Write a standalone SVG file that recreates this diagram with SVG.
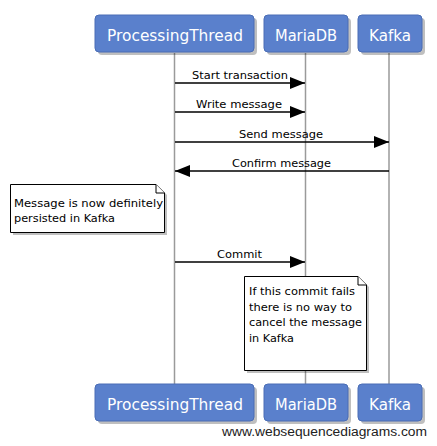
<svg xmlns="http://www.w3.org/2000/svg" width="437" height="446" viewBox="0 0 437 446">
<style>
.box{fill:#5a80cc;stroke:#4a6db5;stroke-width:1}
.shadow{fill:#000;opacity:0.25}
.bt{font-family:"DejaVu Sans",Verdana,sans-serif;font-size:15px;fill:#fff}
.life{stroke:#9a9a9a;stroke-width:1.5;fill:none}
.msg{stroke:#000;stroke-width:1.3;fill:none}
.ml{font-family:"DejaVu Sans",Verdana,sans-serif;font-size:10.5px;fill:#000}
.note{fill:#fff;stroke:#000;stroke-width:1}
.nt{font-family:"DejaVu Sans",Verdana,sans-serif;font-size:10.5px;fill:#000}
.foot{font-family:"Liberation Sans",Arial,sans-serif;font-size:12px;fill:#222}
</style>
<defs>
<marker id="ah" markerWidth="15" markerHeight="12" refX="15" refY="6" orient="auto" markerUnits="userSpaceOnUse">
<path d="M0,0 L15,6 L0,12 Z" fill="#000"/>
</marker>
</defs>
<rect width="437" height="446" fill="#fff"/>
<g id="connectors">
<line class="life" x1="174.5" y1="53" x2="174.5" y2="384"/>
<line class="life" x1="305.5" y1="53" x2="305.5" y2="384"/>
<line class="life" x1="389" y1="53" x2="389" y2="384"/>
<line class="msg" x1="175" y1="83" x2="305" y2="83" marker-end="url(#ah)"/>
<text class="ml" x="192" y="79" textLength="96" lengthAdjust="spacingAndGlyphs">Start transaction</text>
<line class="msg" x1="175" y1="112" x2="305" y2="112" marker-end="url(#ah)"/>
<text class="ml" x="196" y="108" textLength="86" lengthAdjust="spacingAndGlyphs">Write message</text>
<line class="msg" x1="175" y1="142" x2="389" y2="142" marker-end="url(#ah)"/>
<text class="ml" x="239" y="138" textLength="84" lengthAdjust="spacingAndGlyphs">Send message</text>
<line class="msg" x1="389" y1="171" x2="175" y2="171" marker-end="url(#ah)"/>
<text class="ml" x="232" y="167" textLength="99" lengthAdjust="spacingAndGlyphs">Confirm message</text>
<line class="msg" x1="175" y1="262" x2="305" y2="262" marker-end="url(#ah)"/>
<text class="ml" x="217" y="258" textLength="45" lengthAdjust="spacingAndGlyphs">Commit</text>
</g>
<g id="ProcessingThread">
<rect class="shadow" x="98" y="18" width="159" height="37" rx="4"/>
<rect class="box" x="95" y="15" width="159" height="37" rx="4"/>
<text class="bt" x="107" y="41" textLength="136" lengthAdjust="spacingAndGlyphs">ProcessingThread</text>
</g>
<g id="MariaDB">
<rect class="shadow" x="267" y="18" width="84" height="37" rx="4"/>
<rect class="box" x="264" y="15" width="84" height="37" rx="4"/>
<text class="bt" x="275" y="41" textLength="62" lengthAdjust="spacingAndGlyphs">MariaDB</text>
</g>
<g id="Kafka">
<rect class="shadow" x="361" y="18" width="64" height="37" rx="4"/>
<rect class="box" x="358" y="15" width="64" height="37" rx="4"/>
<text class="bt" x="369" y="41" textLength="42" lengthAdjust="spacingAndGlyphs">Kafka</text>
</g>
<g id="note1">
<path class="shadow" d="M13,187 H159 L167,195 V235 H13 Z"/>
<path class="note" d="M10.5,184.5 H156 L164.5,193 V232.5 H10.5 Z"/>
<path class="note" d="M156,184.5 V193 H164.5"/>
<text class="nt" x="14" y="207" textLength="149" lengthAdjust="spacingAndGlyphs">Message is now definitely</text>
<text class="nt" x="14" y="222" textLength="101" lengthAdjust="spacingAndGlyphs">persisted in Kafka</text>
</g>
<g id="note2">
<path class="shadow" d="M247,279 H361 L369,287 V373 H247 Z"/>
<path class="note" d="M244.5,276.5 H358 L366.5,285 V370.5 H244.5 Z"/>
<path class="note" d="M358,276.5 V285 H366.5"/>
<text class="nt" x="249" y="295" textLength="106" lengthAdjust="spacingAndGlyphs">If this commit fails</text>
<text class="nt" x="249" y="311" textLength="103" lengthAdjust="spacingAndGlyphs">there is no way to</text>
<text class="nt" x="249" y="326" textLength="113" lengthAdjust="spacingAndGlyphs">cancel the message</text>
<text class="nt" x="249" y="342" textLength="45" lengthAdjust="spacingAndGlyphs">in Kafka</text>
</g>
<g id="ProcessingThread_bottom">
<rect class="shadow" x="98" y="387" width="159" height="37" rx="4"/>
<rect class="box" x="95" y="384" width="159" height="37" rx="4"/>
<text class="bt" x="107" y="410" textLength="136" lengthAdjust="spacingAndGlyphs">ProcessingThread</text>
</g>
<g id="MariaDB_bottom">
<rect class="shadow" x="267" y="387" width="84" height="37" rx="4"/>
<rect class="box" x="264" y="384" width="84" height="37" rx="4"/>
<text class="bt" x="275" y="410" textLength="62" lengthAdjust="spacingAndGlyphs">MariaDB</text>
</g>
<g id="Kafka_bottom">
<rect class="shadow" x="361" y="387" width="64" height="37" rx="4"/>
<rect class="box" x="358" y="384" width="64" height="37" rx="4"/>
<text class="bt" x="369" y="410" textLength="42" lengthAdjust="spacingAndGlyphs">Kafka</text>
</g>
<text class="foot" x="222" y="436" textLength="205" lengthAdjust="spacingAndGlyphs">www.websequencediagrams.com</text>
</svg>
